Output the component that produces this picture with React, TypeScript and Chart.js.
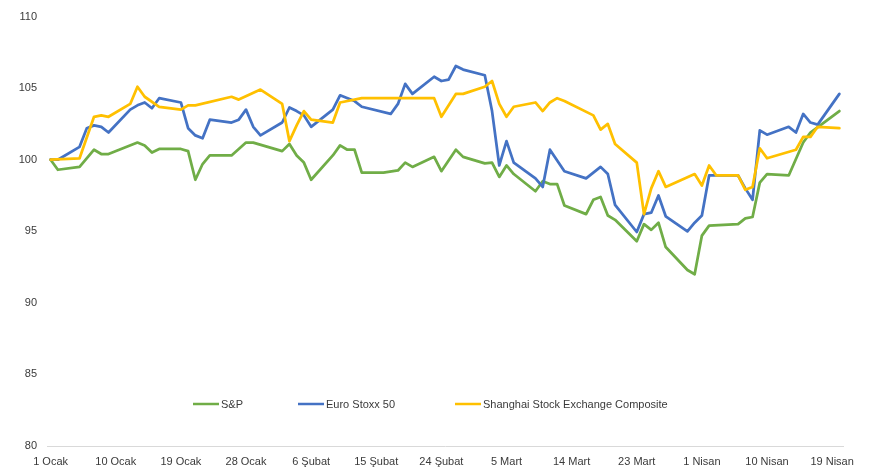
import React, { useEffect, useRef } from "react";
import { Chart, registerables } from "chart.js";

Chart.register(...registerables);

// X axis: day offsets from 1 January, ticks every 9 days
const xTickDays = [0, 9, 18, 27, 36, 45, 54, 63, 72, 81, 90, 99, 108];
const xTickLabels = [
  "1 Ocak", "10 Ocak", "19 Ocak", "28 Ocak", "6 Şubat", "15 Şubat", "24 Şubat",
  "5 Mart", "14 Mart", "23 Mart", "1 Nisan", "10 Nisan", "19 Nisan",
];
const yTickValues = [80, 85, 90, 95, 100, 105, 110];

const seriesNames = ["S&P", "Euro Stoxx 50", "Shanghai Stock Exchange Composite"];
const seriesColors = ["#70AD47", "#4472C4", "#FFC000"];

// S&P
const spDays = [
  0, 1, 4, 6, 7, 8, 12, 13, 14, 15, 18, 19, 20, 21, 22, 25, 27, 28, 32, 33, 34, 35, 36,
  39, 40, 41, 42, 43, 46, 48, 49, 50, 53, 54, 56, 57, 60, 61, 62, 63, 64, 67, 68, 69, 70,
  71, 74, 75, 76, 77, 78, 81, 82, 83, 84, 85, 88, 89, 90, 91, 95, 96, 97, 98, 99, 102,
  104, 105, 109,
];
const spValues = [
  100, 99.3, 99.5, 100.7, 100.4, 100.4, 101.2, 101.0, 100.5, 100.75, 100.75, 100.6, 98.6,
  99.7, 100.3, 100.3, 101.2, 101.2, 100.6, 101.1, 100.3, 99.8, 98.6,
  100.3, 101.0, 100.7, 100.7, 99.1, 99.1, 99.25, 99.8, 99.5, 100.2, 99.2, 100.7, 100.2,
  99.75, 99.8, 98.8, 99.6, 99.0, 97.8, 98.5, 98.3, 98.3,
  96.8, 96.2, 97.2, 97.4, 96.1, 95.8, 94.3, 95.5, 95.1, 95.6, 93.9, 92.3, 92.0, 94.7,
  95.4, 95.5, 95.9, 96.0, 98.4, 99.0, 98.9,
  101.2, 101.9, 103.4,
];

// Euro Stoxx 50
const euroDays = [
  0, 1, 4, 5, 6, 7, 8, 11, 12, 13, 14, 15, 18, 19, 20, 21, 22, 25, 26, 27, 28, 29, 32,
  33, 34, 35, 36, 39, 40, 42, 43, 47, 48, 49, 50, 53, 54, 55, 56, 57, 60, 61, 62, 63, 64,
  67, 68, 69, 71, 74, 75, 76, 77, 78, 81, 82, 83, 84, 85, 88, 89, 90, 91, 95, 96, 97, 98,
  99, 102, 103, 104, 105, 106, 109,
];
const euroValues = [
  100, 100, 100.9, 102.2, 102.4, 102.3, 101.9, 103.5, 103.8, 104.0, 103.6, 104.3, 104.0,
  102.2, 101.7, 101.5, 102.8, 102.6, 102.8, 103.5, 102.3, 101.7, 102.6,
  103.65, 103.4, 103.1, 102.3, 103.5, 104.5, 104.1, 103.7, 103.2, 103.9, 105.3, 104.6,
  105.8, 105.5, 105.6, 106.55, 106.3, 105.9, 103.4, 99.6, 101.3, 99.8,
  98.7, 98.1, 100.7, 99.2, 98.7, 99.1, 99.5, 99.0, 96.85, 94.95, 96.2, 96.3, 97.5, 96.05,
  95.0, 95.6, 96.1, 98.9, 98.9, 98.0, 97.2, 102.05,
  101.75, 102.3, 101.9, 103.2, 102.6, 102.45, 104.6,
];

// Shanghai Stock Exchange Composite
const shanghaiDays = [
  0, 4, 6, 7, 8, 11, 12, 13, 15, 18, 19, 20, 25, 26, 29, 32, 33, 34, 35, 36, 39, 40, 43,
  53, 54, 56, 57, 60, 61, 62, 63, 64, 67, 68, 69, 70, 71, 75, 76, 77, 78, 81, 82, 83, 84,
  85, 89, 90, 91, 92, 95, 96, 97, 98, 99, 103, 104, 105, 106, 109,
];
const shanghaiValues = [
  100, 100.1, 103.0, 103.1, 103.0, 103.9, 105.1, 104.4, 103.7, 103.5, 103.8, 103.8, 104.4,
  104.2, 104.9, 103.9, 101.3, 102.4, 103.4, 102.8, 102.6, 104.0, 104.3,
  104.3, 103.0, 104.6, 104.6, 105.1, 105.5, 103.9, 103.0, 103.7, 104.0, 103.4, 104.0,
  104.3, 104.1, 103.1, 102.1, 102.5, 101.1, 99.8, 96.2, 98.0, 99.2,
  98.1, 99.0, 98.2, 99.6, 98.9, 98.9, 97.9, 98.1, 100.8, 100.1, 100.7, 101.6, 101.6,
  102.3, 102.2,
];

const FONT = "'Liberation Sans', Arial, sans-serif";
const TEXT_COLOR = "#3a3a3a";

const toPoints = (days: number[], values: number[]) =>
  days.map((d, i) => ({ x: d, y: values[i] }));

// legend item start offsets from the chart area's left edge
const legendOffsets = [146, 251, 408];

const legendPlugin = {
  id: "innerLegend",
  afterDraw(chart: any) {
    const { ctx, chartArea } = chart;
    const y = chartArea.bottom - 42;
    const lineLen = 26;
    const gapText = 2;
    ctx.save();
    ctx.font = `11px ${FONT}`;
    ctx.textBaseline = "middle";
    ctx.textAlign = "left";
    seriesNames.forEach((name, i) => {
      const x = chartArea.left + legendOffsets[i];
      ctx.strokeStyle = seriesColors[i];
      ctx.lineWidth = 2.5;
      ctx.lineCap = "butt";
      ctx.beginPath();
      ctx.moveTo(x, y);
      ctx.lineTo(x + lineLen, y);
      ctx.stroke();
      ctx.fillStyle = TEXT_COLOR;
      ctx.fillText(name, x + lineLen + gapText, y + 0.5);
    });
    ctx.restore();
  },
};

export default function App() {
  const canvasRef = useRef<HTMLCanvasElement | null>(null);

  useEffect(() => {
    if (!canvasRef.current) return;
    const series = [
      { days: spDays, values: spValues, order: 2 },
      { days: euroDays, values: euroValues, order: 1 },
      { days: shanghaiDays, values: shanghaiValues, order: 0 },
    ];
    const chart = new Chart(canvasRef.current, {
      type: "line",
      data: {
        datasets: series.map((s, i) => ({
          label: seriesNames[i],
          data: toPoints(s.days, s.values),
          borderColor: seriesColors[i],
          backgroundColor: seriesColors[i],
          borderWidth: 2.75,
          pointRadius: 0,
          tension: 0,
          borderJoinStyle: "round" as const,
          borderCapStyle: "round" as const,
          order: s.order,
          fill: false,
        })),
      },
      options: {
        responsive: false,
        animation: false,
        layout: { padding: { top: 8, right: 35, bottom: 0, left: 0 } },
        plugins: {
          legend: { display: false },
          tooltip: { enabled: false },
        },
        scales: {
          x: {
            type: "linear",
            min: -0.5,
            max: 109.5,
            grid: { display: false, drawTicks: false },
            border: { display: true, color: "#d9d9d9", width: 1 },
            afterBuildTicks: (scale: any) => {
              scale.ticks = xTickDays.map((v) => ({ value: v }));
            },
            afterFit: (scale: any) => {
              scale.height = 30;
            },
            ticks: {
              autoSkip: false,
              maxRotation: 0,
              minRotation: 0,
              padding: 9,
              color: TEXT_COLOR,
              font: { family: FONT, size: 11 },
              callback: (_v: any, index: number) => xTickLabels[index],
            },
          },
          y: {
            type: "linear",
            min: 80,
            max: 110,
            grid: { display: false, drawTicks: false },
            border: { display: false },
            afterBuildTicks: (scale: any) => {
              scale.ticks = yTickValues.map((v) => ({ value: v }));
            },
            afterFit: (scale: any) => {
              scale.width = 47;
            },
            ticks: {
              padding: 10,
              color: TEXT_COLOR,
              font: { family: FONT, size: 11 },
              callback: (v: any) => String(v),
            },
          },
        },
      },
      plugins: [legendPlugin],
    });
    return () => chart.destroy();
  }, []);

  return (
    <div style={{ position: "absolute", left: 0, top: 0, width: 878, height: 476, background: "#fff" }}>
      <canvas ref={canvasRef} width={878} height={476} style={{ display: "block" }} />
    </div>
  );
}
